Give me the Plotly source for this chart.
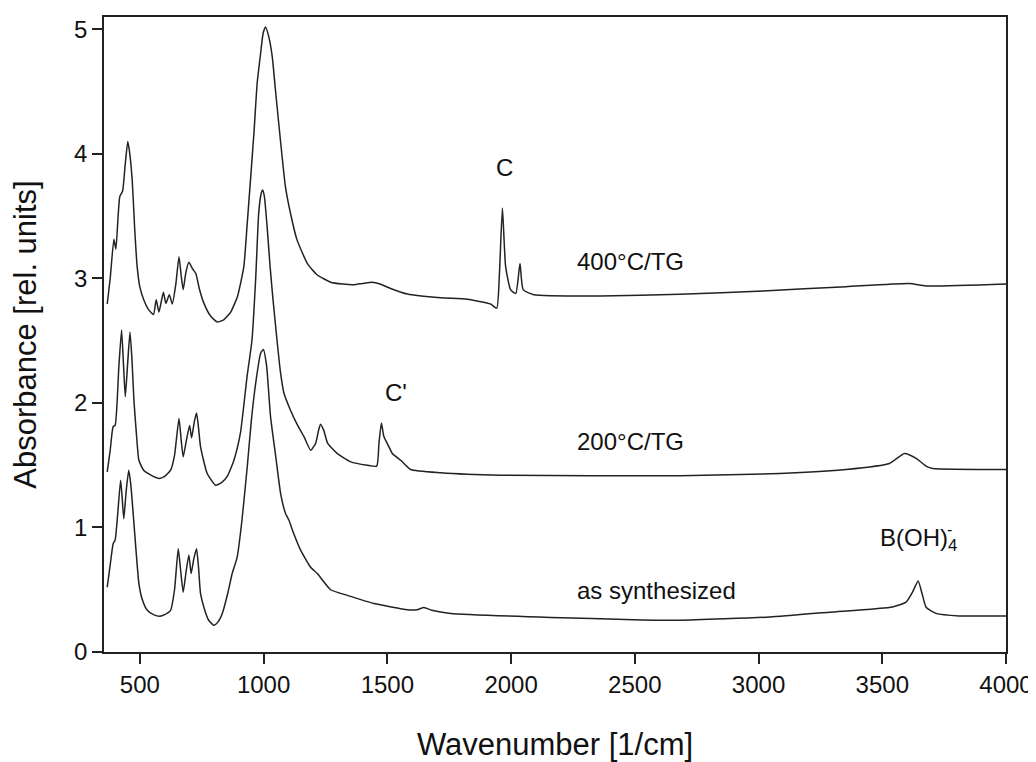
import plotly.graph_objects as go

# ---- data (wavenumber [1/cm], absorbance [rel. units]) ----
x_400 = [368, 380, 395, 403, 412, 419, 430, 440, 451, 458, 469, 479, 489, 500, 516, 535, 555, 566, 577,
         595, 605, 619, 631, 645, 658, 667, 675, 686, 698, 712, 726, 740, 759, 785, 813, 840, 867, 895,
         920, 933, 961, 974, 988, 998, 1008, 1021, 1035, 1048, 1069, 1088, 1109, 1135, 1177, 1216, 1271,
         1320, 1365, 1400, 1439, 1470, 1513, 1581, 1716, 1823, 1917, 1942, 1953, 1965, 1978, 1998, 2019,
         2036, 2049, 2092, 2362, 2682, 3018, 3354, 3610, 3677, 4000]
y_400 = [2.795, 3.00, 3.315, 3.235, 3.50, 3.66, 3.70, 3.90, 4.10, 4.02, 3.79, 3.40, 3.095, 2.93, 2.827,
         2.75, 2.71, 2.83, 2.73, 2.89, 2.80, 2.87, 2.795, 2.95, 3.175, 3.02, 2.91, 3.05, 3.13, 3.08, 3.04,
         2.92, 2.80, 2.70, 2.65, 2.67, 2.73, 2.86, 3.095, 3.42, 4.17, 4.57, 4.81, 4.97, 5.02, 4.94, 4.78,
         4.51, 4.09, 3.74, 3.52, 3.31, 3.12, 3.03, 2.97, 2.955, 2.95, 2.96, 2.97, 2.955, 2.92, 2.875, 2.845,
         2.833, 2.795, 2.76, 3.04, 3.565, 3.095, 2.91, 2.88, 3.12, 2.91, 2.87, 2.86, 2.873, 2.90, 2.934,
         2.96, 2.94, 2.956]

x_200 = [368, 380, 392, 400, 415, 426, 434, 441, 450, 460, 468, 476, 486, 496, 515, 536, 577, 600, 624,
         640, 658, 667, 675, 688, 701, 709, 720, 729, 737, 745, 772, 806, 830, 853, 880, 906, 933, 953,
         968, 980, 990, 996, 1003, 1014, 1026, 1038, 1054, 1068, 1082, 1109, 1135, 1163, 1190, 1210, 1222,
         1230, 1243, 1259, 1297, 1352, 1419, 1457, 1466, 1476, 1486, 1506, 1520, 1554, 1594, 1716, 1958,
         2682, 3085, 3354, 3529, 3590, 3637, 3677, 3704, 4000]
y_200 = [1.447, 1.62, 1.81, 1.82, 2.29, 2.586, 2.30, 2.05, 2.30, 2.57, 2.35, 2.02, 1.75, 1.54, 1.46, 1.43,
         1.394, 1.41, 1.46, 1.58, 1.876, 1.70, 1.567, 1.70, 1.82, 1.72, 1.85, 1.92, 1.80, 1.65, 1.434, 1.34,
         1.36, 1.41, 1.54, 1.755, 2.21, 2.506, 3.00, 3.52, 3.68, 3.71, 3.66, 3.42, 3.10, 2.83, 2.506, 2.25,
         2.08, 1.94, 1.83, 1.73, 1.62, 1.675, 1.78, 1.83, 1.78, 1.675, 1.595, 1.527, 1.50, 1.493, 1.675,
         1.84, 1.73, 1.65, 1.595, 1.54, 1.466, 1.44, 1.42, 1.415, 1.434, 1.466, 1.514, 1.595, 1.555, 1.493,
         1.474, 1.466]

x_syn = [368, 380, 392, 400, 410, 422, 428, 435, 445, 455, 463, 473, 485, 496, 510, 530, 555, 581, 600,
         624, 640, 655, 665, 675, 687, 698, 707, 718, 729, 737, 745, 760, 778, 799, 815, 833, 855, 873,
         893, 912, 934, 950, 968, 988, 999, 1012, 1028, 1049, 1069, 1089, 1102, 1122, 1149, 1190, 1217,
         1271, 1338, 1446, 1581, 1620, 1648, 1680, 1756, 2160, 2496, 2682, 3045, 3287, 3542, 3596, 3622,
         3645, 3662, 3677, 3717, 3811, 4000]
y_syn = [0.52, 0.70, 0.87, 0.90, 1.10, 1.38, 1.25, 1.07, 1.30, 1.46, 1.35, 1.11, 0.80, 0.55, 0.42, 0.335,
         0.30, 0.287, 0.30, 0.335, 0.50, 0.83, 0.65, 0.48, 0.65, 0.78, 0.63, 0.75, 0.83, 0.68, 0.47, 0.35,
         0.255, 0.215, 0.24, 0.31, 0.47, 0.63, 0.76, 1.05, 1.49, 1.85, 2.16, 2.40, 2.43, 2.30, 1.89, 1.57,
         1.27, 1.11, 1.06, 0.95, 0.82, 0.68, 0.63, 0.50, 0.455, 0.39, 0.34, 0.34, 0.357, 0.335, 0.31, 0.277,
         0.26, 0.255, 0.281, 0.32, 0.362, 0.40, 0.48, 0.57, 0.46, 0.36, 0.31, 0.29, 0.29]

series_names = ["400°C/TG", "200°C/TG", "as synthesized"]
x_ticks = [500, 1000, 1500, 2000, 2500, 3000, 3500, 4000]
y_ticks = [0, 1, 2, 3, 4, 5]

FONT = "Arial, 'Liberation Sans', sans-serif"
LINE = "#222222"
TXT = "#111111"

fig = go.Figure()
for name, xs, ys in zip(series_names, [x_400, x_200, x_syn], [y_400, y_200, y_syn]):
    fig.add_trace(go.Scatter(x=xs, y=ys, mode="lines", name=name,
                             line=dict(color=LINE, width=1.5, shape="spline", smoothing=0.5),
                             showlegend=False))

ann_font = dict(family=FONT, size=24, color=TXT)
annotations = [
    dict(x=1972, y=3.888, text="C", xanchor="center", yanchor="middle"),
    dict(x=1535, y=2.088, text="C'", xanchor="center", yanchor="middle"),
    dict(x=2258, y=3.135, text="400°C/TG", xanchor="left", yanchor="middle"),
    dict(x=2258, y=1.688, text="200°C/TG", xanchor="left", yanchor="middle"),
    dict(x=2258, y=0.496, text="as synthesized", xanchor="left", yanchor="middle"),
    dict(x=3481, y=0.906, text="B(OH)<sub>4</sub>", xanchor="left", yanchor="middle"),
    dict(x=3770, y=0.985, text="-", xanchor="center", yanchor="middle",
         font=dict(family=FONT, size=16, color=TXT)),
]
for a in annotations:
    a.setdefault("font", ann_font)
    a.update(showarrow=False, xref="x", yref="y")

# the page body adds an 8 px offset, so the figure is 8 px smaller each way
fig.update_layout(
    width=1028, height=754,
    margin=dict(l=96, r=30, t=9, b=110),
    paper_bgcolor="white", plot_bgcolor="white",
    font=dict(family=FONT, color=TXT),
    annotations=annotations,
)
fig.update_xaxes(
    range=[355, 4000], tickvals=x_ticks, ticks="outside", ticklen=10, tickwidth=1.5, tickcolor=LINE,
    showline=True, linecolor=LINE, linewidth=1.5, mirror=True, showgrid=False, zeroline=False,
    automargin=False,
    tickfont=dict(family=FONT, size=24, color=TXT),
    title=dict(text="Wavenumber [1/cm]", font=dict(family=FONT, size=31, color=TXT), standoff=39),
)
fig.update_yaxes(
    range=[0, 5.1], tickvals=y_ticks, ticks="outside", ticklen=10, tickwidth=1.5, tickcolor=LINE,
    showline=True, linecolor=LINE, linewidth=1.5, mirror=True, showgrid=False, zeroline=False,
    automargin=False,
    tickfont=dict(family=FONT, size=24, color=TXT),
    title=dict(text="Absorbance [rel. units]", font=dict(family=FONT, size=31, color=TXT), standoff=32),
)

fig.write_html("out.html")
